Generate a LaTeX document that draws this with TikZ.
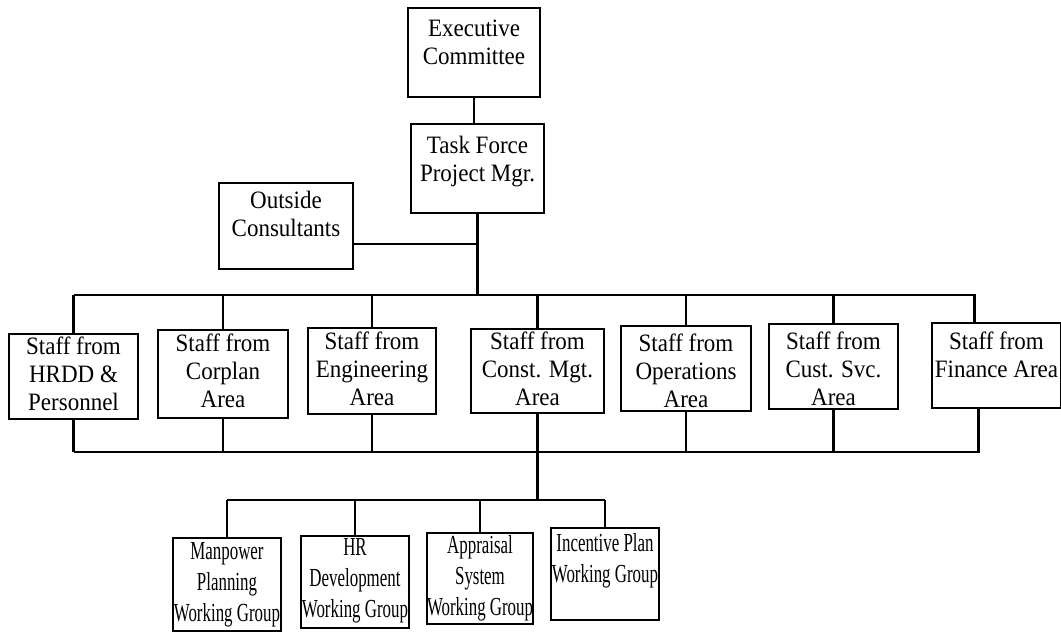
\documentclass[tikz,border=0pt]{standalone}
\usepackage{fontspec}
\setmainfont{Liberation Serif}[FakeStretch=0.92]
\newfontfamily\wgfont{Liberation Serif}[FakeStretch=0.65]

\tikzstyle{unit}=[draw,line width=1pt,inner sep=0pt,anchor=north west,font=\fontsize{12.5}{14}\selectfont]
\tikzstyle{group}=[unit,font=\wgfont\fontsize{13}{15.5}\selectfont]
\tikzstyle{link}=[line width=1.2pt]
\newcommand\boxtext[4]{\parbox[c][#2][t]{#1}{\centering\vspace*{#3}#4\par}}

\begin{document}
\begin{tikzpicture}[x=0.5pt,y=-0.5pt]
       \useasboundingbox (0,0) rectangle (1061,633);

       % management
       \node[unit] (exec) at (407,7) {\boxtext{66pt}{44.5pt}{6pt}{Executive\\Committee}};
       \node[unit] (task) at (410,123) {\boxtext{66.5pt}{44.5pt}{6pt}{Task Force\\Project Mgr.}};
       \node[unit] (outside) at (218,182) {\boxtext{67pt}{43pt}{4pt}{Outside\\Consultants}};

       % staff areas
       \node[unit] (hrdd) at (8,333) {\boxtext{64.5pt}{42.5pt}{1.4pt}{Staff from\\HRDD \&\\Personnel}};
       \node[unit] (corplan) at (157,329) {\boxtext{65pt}{44pt}{2pt}{Staff from\\Corplan\\Area}};
       \node[unit] (engin) at (307,327) {\boxtext{64pt}{43pt}{2pt}{Staff from\\Engineering\\Area}};
       \node[unit] (const) at (470,328) {\boxtext{66.5pt}{42pt}{1.5pt}{Staff from\\Const. Mgt.\\Area}};
       \node[unit] (ops) at (620,325) {\boxtext{65pt}{42.5pt}{4pt}{Staff from\\Operations\\Area}};
       \node[unit] (cust) at (768,323) {\boxtext{64.5pt}{42.5pt}{4pt}{Staff from\\Cust. Svc.\\Area}};
       \node[unit] (fin) at (931,322) {\boxtext{64.5pt}{42.5pt}{4.5pt}{Staff from\\Finance Area}};

       % working groups
       \node[group] (manp) at (172,537) {\boxtext{54pt}{46.5pt}{2pt}{Manpower\\Planning\\Working Group}};
       \node[group] (hrdev) at (300,535) {\boxtext{54pt}{46pt}{1pt}{HR\\Development\\Working Group}};
       \node[group] (apprais) at (426,532) {\boxtext{53pt}{45.5pt}{1pt}{Appraisal\\System\\Working Group}};
       \node[group] (incent) at (550,527) {\boxtext{54pt}{46pt}{2.5pt}{Incentive Plan\\Working Group}};

       \coordinate (top) at (479,295);
       \coordinate (low) at (543,452);
       \coordinate (wg) at (543,500);
       \coordinate (finx) at ([xshift=-11pt]fin.north);
       \coordinate (finy) at ([xshift=-9pt]fin.south);
       \coordinate (outx) at ([yshift=-9pt]outside.east);

       \draw[link] (exec.south) -- (exec.south |- task.north);
       \draw[link] (task.south) -- (task.south |- top);
       \draw[link] (outx) -- (outx -| task.south);

       \draw[link] (hrdd.north |- top) -- (finx |- top) -- (finx);
       \foreach \name in {hrdd,corplan,engin,const,ops,cust} {
           \draw[link] (\name.north) -- (\name.north |- top);
       }
       \draw[link] (hrdd.south |- low) -- (finy |- low) -- (finy);
       \foreach \name in {hrdd,corplan,engin,ops,cust} {
           \draw[link] (\name.south) -- (\name.south |- low);
       }
       \draw[link] (const.south) -- (const.south |- wg);

       \draw[link] (manp.north |- wg) -- (incent.north |- wg);
       \foreach \name in {manp,hrdev,apprais,incent} {
           \draw[link] (\name.north) -- (\name.north |- wg);
       }
\end{tikzpicture}
\end{document}
